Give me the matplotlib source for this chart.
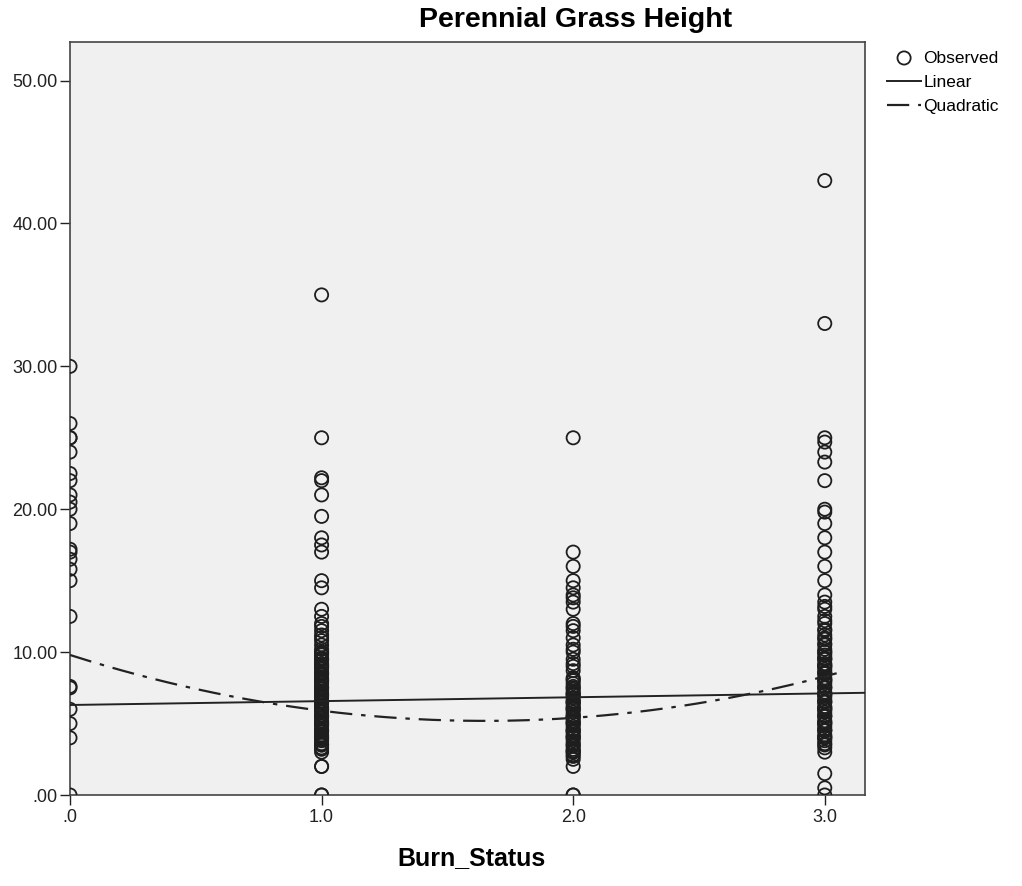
import numpy as np
import matplotlib
matplotlib.use("Agg")
import matplotlib.pyplot as plt

plt.rcParams['font.family'] = ['Liberation Sans', 'DejaVu Sans']

# observed values per burn status
burn0 = [30, 26, 25, 25, 24, 22.5, 22, 21, 20.5, 20, 19, 17.2, 17, 16.5, 15.8,
         15, 12.5, 7.6, 7.5, 6, 5, 4, 0]
burn1 = [35, 25, 22.2, 22, 21, 19.5, 18, 17.5, 17, 15, 14.5, 13, 12.5, 12, 11.8,
         11.5, 11.2, 11, 10.8, 10.5, 10.2, 10, 10, 9.8, 9.5, 9.5, 9.2, 9, 9, 8.8,
         8.5, 8.5, 8.2, 8, 8, 7.8, 7.5, 7.5, 7.2, 7, 7, 6.8, 6.5, 6.5, 6.2, 6, 6,
         5.8, 5.5, 5.5, 5.2, 5, 5, 4.8, 4.5, 4.5, 4.2, 4, 4, 3.8, 3.5, 3.5, 3.2,
         3, 2, 2, 0, 0,
         9.9, 9.6, 9.4, 9.1, 8.9, 8.6, 8.4, 8.1, 7.9, 7.6, 7.4, 7.1, 6.9, 6.6,
         6.4, 6.1, 5.9, 5.6, 5.4, 5.1, 4.9, 4.6, 4.4, 4.1, 3.9, 3.6, 3.3]
burn2 = [25, 17, 16, 15, 14.5, 14, 13.8, 13.5, 13, 12, 11.8, 11.5, 11, 10.5,
         10.2, 10, 9.5, 9.2, 9, 8.7, 8.2, 8, 7.8, 7.5, 7.2, 7, 7, 6.8, 6.5, 6.5,
         6.2, 6, 6, 5.8, 5.5, 5.5, 5.2, 5, 5, 4.8, 4.5, 4.5, 4.2, 4, 4, 3.8, 3.5,
         3.2, 3, 3, 2.8, 2.5, 2, 0, 0,
         8.1, 7.6, 7.4, 7.1, 6.6, 6.4, 6.1, 5.6, 5.4, 5.1, 4.6, 4.4, 4.1, 3.6,
         3.4, 3.1, 2.7]
burn3 = [43, 33, 25, 24.7, 24, 23.3, 22, 20, 19.8, 19, 18, 17, 16, 15, 14, 13.5,
         13.2, 13, 12.5, 12.2, 12, 11.5, 11.2, 11, 10.5, 10.2, 10, 10, 9.8, 9.5,
         9.5, 9.2, 9, 9, 8.8, 8.5, 8.5, 8.2, 8, 8, 7.8, 7.5, 7.5, 7.2, 7, 7, 6.8,
         6.5, 6.5, 6.2, 6, 6, 5.8, 5.5, 5.5, 5.2, 5, 5, 4.8, 4.5, 4.5, 4.2, 4,
         4, 3.8, 3.5, 3, 1.5, 0.5, 0,
         11.6, 10.9, 10.6, 9.6, 9.1, 8.6, 8.1, 7.6, 7.1, 6.6, 6.1, 5.6, 5.1,
         4.6, 4.1, 3.6, 3.3]
groups = [burn0, burn1, burn2, burn3]

# fitted curves
lin_coef = [6.3, 0.27]            # b0, b1
quad_coef = [9.8, -5.6, 1.7]      # b0, b1, b2

y_ticks = [0, 10, 20, 30, 40, 50]
y_labels = ['.00', '10.00', '20.00', '30.00', '40.00', '50.00']
x_ticks = [0, 1, 2, 3]
x_labels = ['.0', '1.0', '2.0', '3.0']

fig = plt.figure(figsize=(10.22, 8.86), dpi=100)
ax = fig.add_axes([0.0685, 0.1027, 0.7779, 0.8499])
ax.set_facecolor('#f0f0f0')

for i, vals in enumerate(groups):
    ax.scatter([i] * len(vals), vals, s=90, facecolors='none',
               edgecolors='#1e1e1e', linewidths=1.3, zorder=3,
               label='Observed' if i == 0 else None)

xl = np.linspace(0, 3.16, 50)
ax.plot(xl, lin_coef[0] + lin_coef[1] * xl, color='#222222', lw=1.4,
        label='Linear', zorder=4)
xq = np.linspace(0, 3.08, 200)
ax.plot(xq, quad_coef[0] + quad_coef[1] * xq + quad_coef[2] * xq ** 2,
        color='#222222', lw=1.6, dashes=(10, 4, 2, 4), label='Quadratic',
        zorder=4)

ax.set_xlim(0, 3.16)
ax.set_ylim(0, 52.7)
ax.set_xticks(x_ticks)
ax.set_xticklabels(x_labels)
ax.set_yticks(y_ticks)
ax.set_yticklabels(y_labels)
ax.tick_params(direction='out', length=7, width=1, labelsize=13,
               colors='#222222', pad=2)
ax.tick_params(axis='x', pad=3)
for sp in ax.spines.values():
    sp.set_color('#444444')
    sp.set_linewidth(1.2)

fig.text(0.461, 0.0316, 'Burn_Status', fontsize=18, fontweight='bold',
         ha='center', va='center')
fig.text(0.5636, 0.977, 'Perennial Grass Height', fontsize=20.5,
         fontweight='bold', ha='center', va='center')

ax.legend(loc='upper left', bbox_to_anchor=(1.012, 1.005), frameon=False,
          fontsize=12.5, handlelength=2.0, handletextpad=0.1,
          labelspacing=0.52, borderaxespad=0.3)

fig.savefig('out.png', dpi=100)
